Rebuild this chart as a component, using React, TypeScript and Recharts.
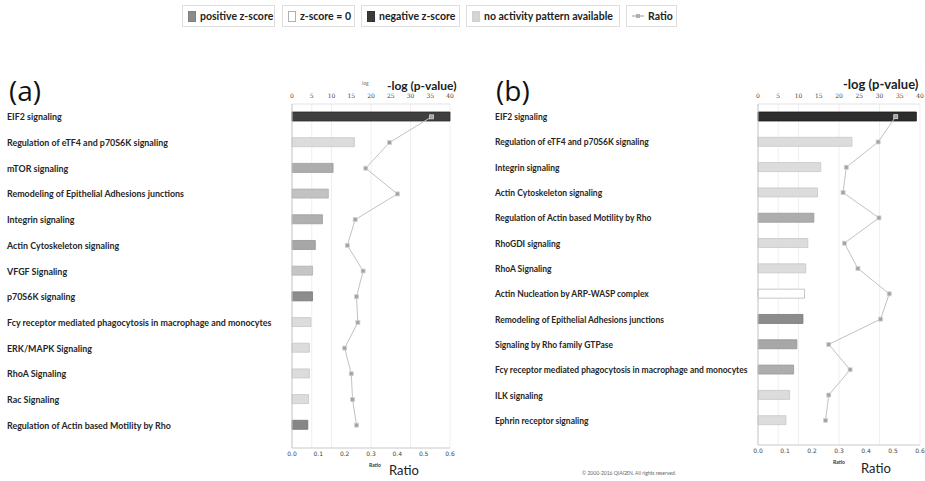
import React from 'react';
import { ComposedChart, Bar, Line, XAxis, YAxis, CartesianGrid, Cell } from 'recharts';

// ---------- Data ----------
const pathwaysA = [
  'EIF2 signaling',
  'Regulation of eTF4 and p70S6K signaling',
  'mTOR signaling',
  'Remodeling of Epithelial Adhesions junctions',
  'Integrin signaling',
  'Actin Cytoskeleton signaling',
  'VFGF Signaling',
  'p70S6K signaling',
  'Fcy receptor mediated phagocytosis in macrophage and monocytes',
  'ERK/MAPK Signaling',
  'RhoA Signaling',
  'Rac Signaling',
  'Regulation of Actin based Motility by Rho',
];
const logPA = [40, 15.8, 10.4, 9.2, 7.7, 5.9, 5.2, 5.2, 4.8, 4.4, 4.4, 4.2, 4.0];
const ratioA = [0.53, 0.37, 0.28, 0.4, 0.24, 0.21, 0.27, 0.245, 0.25, 0.2, 0.225, 0.23, 0.245];
const zScoreA: (number | null)[] = [-3.9, null, 1.4, 0.7, 1.3, 1.6, 0.6, 2.5, null, null, null, null, 2.7];

const pathwaysB = [
  'EIF2 signaling',
  'Regulation of eTF4 and p70S6K signaling',
  'Integrin signaling',
  'Actin Cytoskeleton signaling',
  'Regulation of Actin based Motility by Rho',
  'RhoGDI signaling',
  'RhoA Signaling',
  'Actin Nucleation by ARP-WASP complex',
  'Remodeling of Epithelial Adhesions junctions',
  'Signaling by Rho family GTPase',
  'Fcy receptor mediated phagocytosis in macrophage and monocytes',
  'ILK signaling',
  'Ephrin receptor signaling',
];
const logPB = [39.1, 23.2, 15.5, 14.7, 13.8, 12.3, 11.8, 11.5, 11.1, 9.6, 8.8, 7.8, 6.9];
const ratioB = [0.51, 0.445, 0.327, 0.315, 0.448, 0.32, 0.37, 0.486, 0.454, 0.262, 0.341, 0.262, 0.25];
const zScoreB: (number | null)[] = [-4.6, null, null, null, 1.4, null, null, 0, 2.5, 1.6, 1.4, null, null];

const logPTicks = [0, 5, 10, 15, 20, 25, 30, 35, 40];
const ratioTicks = [0, 0.1, 0.2, 0.3, 0.4, 0.5, 0.6];

const legendItems = ['positive z-score', 'z-score = 0', 'negative z-score', 'no activity pattern available', 'Ratio'];

// ---------- Styling helpers ----------
const LABEL_FONT = 'Lato, "Open Sans", sans-serif';

function grayHex(v: number) {
  const c = Math.max(0, Math.min(255, Math.round(v)));
  const h = c.toString(16).padStart(2, '0');
  return `#${h}${h}${h}`;
}
function fillFor(z: number | null) {
  if (z === null) return '#dcdcdc';
  if (z === 0) return '#ffffff';
  if (z < 0) return grayHex(160 - Math.abs(z) * 25);
  return grayHex(215 - z * 30);
}
function strokeFor(z: number | null) {
  if (z === null) return '#c6c6c6';
  if (z === 0) return '#b8b8b8';
  if (z < 0) return grayHex(140 - Math.abs(z) * 25);
  return grayHex(195 - z * 30);
}

const SquareDot = (props: any) => {
  const { cx, cy, index } = props;
  if (cx == null || cy == null) return <g key={`d${index}`} />;
  return (
    <rect key={`d${index}`} x={cx - 2} y={cy - 2} width={4} height={4} fill="#a2a2a2" stroke="#d4d4d4" strokeWidth={0.8} />
  );
};

type PanelProps = {
  names: string[];
  logp: number[];
  ratio: number[];
  z: (number | null)[];
  left: number;
  width: number;
  yAxisWidth: number;
  labelX: number;
  labelScale: number;
  rightMargin: number;
  bottomAxisHeight: number;
  bottomPad: number;
};

function Panel(p: PanelProps) {
  const data = p.names.map((name, i) => ({ name, logp: p.logp[i], ratio: p.ratio[i], z: p.z[i] }));
  const renderTick = (t: any) => (
    <text
      key={`t${t.index}`}
      transform={`translate(${p.labelX},${t.y}) scale(${p.labelScale},1)`}
      x={0}
      y={0}
      dy={3.5}
      fontSize={10}
      fontFamily={LABEL_FONT}
      fontWeight={700}
      fill="#262626"
      textAnchor="start"
    >
      {t.payload.value}
    </text>
  );
  return (
    <div style={{ position: 'absolute', left: p.left, top: 80 }}>
      <ComposedChart
        layout="vertical"
        width={p.width}
        height={400}
        data={data}
        margin={{ top: 0, right: p.rightMargin, bottom: 0, left: 0 }}
      >
        <CartesianGrid xAxisId="top" horizontal={false} vertical stroke="#efefef" />
        <XAxis
          xAxisId="top"
          orientation="top"
          type="number"
          domain={[0, 40]}
          ticks={logPTicks}
          height={24}
          axisLine={{ stroke: '#e2e2e2' }}
          tickLine={false}
          tickSize={4}
          tick={{ fontSize: 6, fill: '#444', fontFamily: 'DejaVu Serif' }}
        />
        <XAxis
          xAxisId="bottom"
          orientation="bottom"
          type="number"
          domain={[0, 0.6]}
          ticks={ratioTicks}
          tickFormatter={(v: number) => v.toFixed(1)}
          height={p.bottomAxisHeight}
          axisLine={{ stroke: '#c8c8c8' }}
          tickLine={false}
          tickSize={2}
          tick={{ fontSize: 6, fill: '#444', fontFamily: 'DejaVu Sans' }}
        />
        <YAxis
          type="category"
          dataKey="name"
          width={p.yAxisWidth}
          axisLine={{ stroke: '#c8c8c8' }}
          tickLine={false}
          interval={0}
          padding={{ top: 0, bottom: p.bottomPad }}
          tick={renderTick}
        />
        <Bar xAxisId="top" dataKey="logp" barSize={9} isAnimationActive={false}>
          {data.map((d, i) => (
            <Cell key={`c${i}`} fill={fillFor(d.z)} stroke={strokeFor(d.z)} strokeWidth={0.8} />
          ))}
        </Bar>
        <Line
          xAxisId="bottom"
          dataKey="ratio"
          stroke="#c2c2c2"
          strokeWidth={1}
          dot={SquareDot}
          isAnimationActive={false}
        />
      </ComposedChart>
    </div>
  );
}

function LegendSwatch({ kind }: { kind: number }) {
  if (kind === 4) {
    return (
      <svg width={12} height={10} style={{ marginRight: 4 }}>
        <line x1={0} y1={5} x2={12} y2={5} stroke="#bbb" strokeWidth={1.5} />
        <rect x={4} y={3} width={4} height={4} fill="#b0b0b0" />
      </svg>
    );
  }
  const fills = ['#8c8c8c', '#ffffff', '#3a3a3a', '#d4d4d4'];
  const strokes = ['#808080', '#b0b0b0', '#333', '#d0d0d0'];
  return (
    <svg width={8} height={11} style={{ marginRight: 4 }}>
      <rect x={0.5} y={0.5} width={7} height={10} fill={fills[kind]} stroke={strokes[kind]} />
    </svg>
  );
}

export default function App() {
  const legendLefts = [182, 282, 361, 466, 626];
  const legendWidths = [93, 73, 99, 154, 51];
  return (
    <div style={{ position: 'absolute', left: 0, top: 0, width: 925, height: 481, background: '#fff', overflow: 'hidden', fontFamily: LABEL_FONT }}>
      {legendItems.map((t, i) => (
        <div
          key={t}
          style={{
            position: 'absolute',
            left: legendLefts[i],
            top: 5,
            width: legendWidths[i],
            height: 22,
            boxSizing: 'border-box',
            border: '1px solid #dedede',
            display: 'flex',
            alignItems: 'center',
            paddingLeft: 5,
            fontSize: 10.5,
            fontWeight: 700,
            color: '#222',
            whiteSpace: 'nowrap',
          }}
        >
          <LegendSwatch kind={i} />
          {t}
        </div>
      ))}

      <div style={{ position: 'absolute', left: 9, top: 72, fontSize: 28, lineHeight: '36px', color: '#111', fontFamily: '"Open Sans", sans-serif' }}>(a)</div>
      <div style={{ position: 'absolute', left: 496, top: 72, fontSize: 28, lineHeight: '36px', color: '#111', fontFamily: '"Open Sans", sans-serif' }}>(b)</div>

      <Panel
        names={pathwaysA}
        logp={logPA}
        ratio={ratioA}
        z={zScoreA}
        left={0}
        width={470}
        yAxisWidth={292}
        labelX={7}
        labelScale={0.89}
        rightMargin={20}
        bottomAxisHeight={32}
        bottomPad={10}
      />
      <Panel
        names={pathwaysB}
        logp={logPB}
        ratio={ratioB}
        z={zScoreB}
        left={480}
        width={445}
        yAxisWidth={278}
        labelX={15}
        labelScale={0.85}
        rightMargin={5}
        bottomAxisHeight={35}
        bottomPad={12}
      />

      {/* axis titles */}
      <div style={{ position: 'absolute', left: 362, top: 80, fontSize: 5, lineHeight: '6px', color: '#777' }}>log</div>
      <div style={{ position: 'absolute', left: 387, top: 79, fontSize: 12, lineHeight: '13px', fontWeight: 700, color: '#222' }}>-log (p-value)</div>
      <div style={{ position: 'absolute', left: 843, top: 77, fontSize: 13, lineHeight: '14px', fontWeight: 700, color: '#222' }}>-log (p-value)</div>

      <div style={{ position: 'absolute', left: 369, top: 462, fontSize: 5, fontWeight: 700, color: '#333' }}>Ratio</div>
      <div style={{ position: 'absolute', left: 389, top: 462, fontSize: 13, color: '#222' }}>Ratio</div>
      <div style={{ position: 'absolute', left: 833, top: 459, fontSize: 5, fontWeight: 700, color: '#333' }}>Ratio</div>
      <div style={{ position: 'absolute', left: 861, top: 460, fontSize: 13, color: '#222' }}>Ratio</div>

      <div style={{ position: 'absolute', left: 582, top: 470, fontSize: 5, color: '#666' }}>© 2000-2016 QIAGEN. All rights reserved.</div>
    </div>
  );
}
